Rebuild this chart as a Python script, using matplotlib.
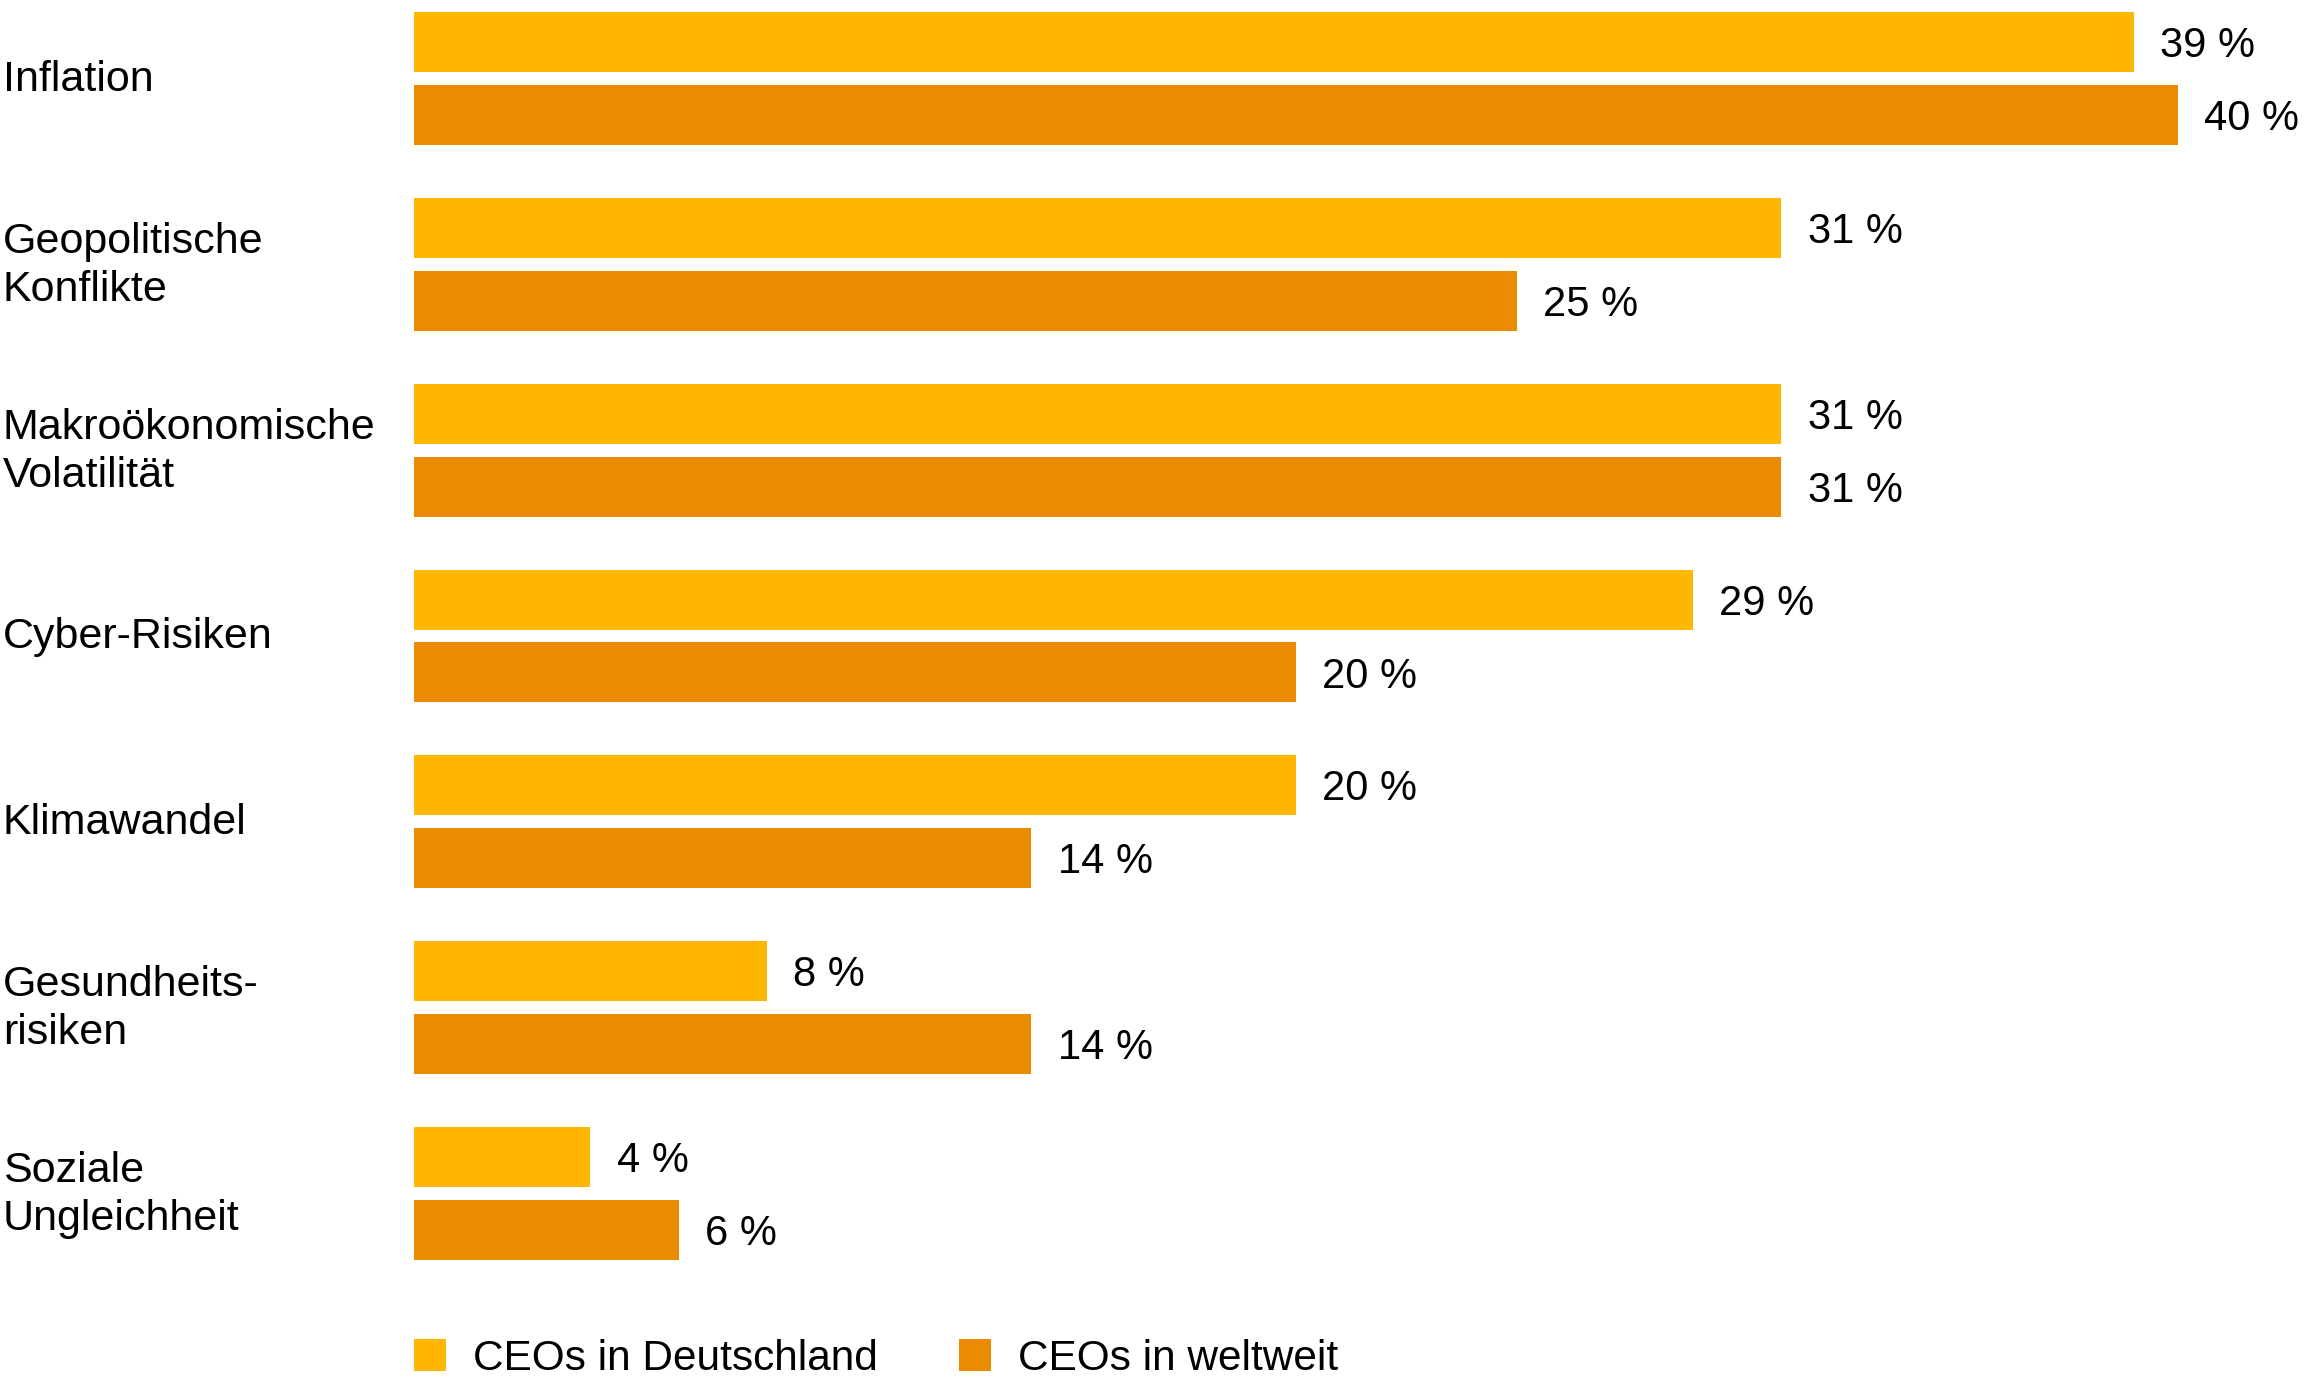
import matplotlib
matplotlib.use("Agg")
import matplotlib.pyplot as plt
from matplotlib.patches import Patch
from matplotlib.transforms import blended_transform_factory

categories = ["Inflation", "Geopolitische\nKonflikte", "Makroökonomische\nVolatilität",
              "Cyber-Risiken", "Klimawandel", "Gesundheits-\nrisiken", "Soziale\nUngleichheit"]
deutschland = [39, 31, 31, 29, 20, 8, 4]
weltweit = [40, 25, 31, 20, 14, 14, 6]
series_names = ["CEOs in Deutschland", "CEOs in weltweit"]
colors = ["#FFB600", "#EB8C00"]

plt.rcParams["font.family"] = ["Liberation Sans", "DejaVu Sans"]
W, H = 2308, 1376
fig = plt.figure(figsize=(W / 100, H / 100), dpi=100)
ax = fig.add_axes([414 / W, 1 - 1260 / H, 1 - 414 / W, (1260 - 12) / H])

bar_h = 60 / 186
off = 36.5 / 186
fs = 30
for i, cat in enumerate(categories):
    for j, vals in enumerate([deutschland, weltweit]):
        y = i - off if j == 0 else i + off
        v = vals[i]
        ax.barh(y, v, height=bar_h, color=colors[j], linewidth=0)
        # labels sit a little below bar centre in the original
        ax.text(v + 0.6, y + 0.022, f"{v} %", va="center", ha="left", fontsize=fs, color="black")

ax.set_xlim(0, (W - 414) / 44.1)
ax.set_ylim(6 + 66.5 / 186, -66.5 / 186)
ax.axis("off")

tr = blended_transform_factory(fig.transFigure, ax.transData)
for i, cat in enumerate(categories):
    ax.text(3 / W, i + 0.008, cat, transform=tr, va="center", ha="left", fontsize=31,
            linespacing=1.25, color="black")

handles = [Patch(facecolor=c, edgecolor="none") for c in colors]
fig.legend(handles, series_names, loc="center left", bbox_to_anchor=(414 / W, 1 - 1359 / H),
           ncol=2, frameon=False, fontsize=30.5, handlelength=0.76, handleheight=0.78,
           handletextpad=0.64, columnspacing=1.9, borderpad=0, borderaxespad=0)

fig.savefig("out.png", dpi=100)
